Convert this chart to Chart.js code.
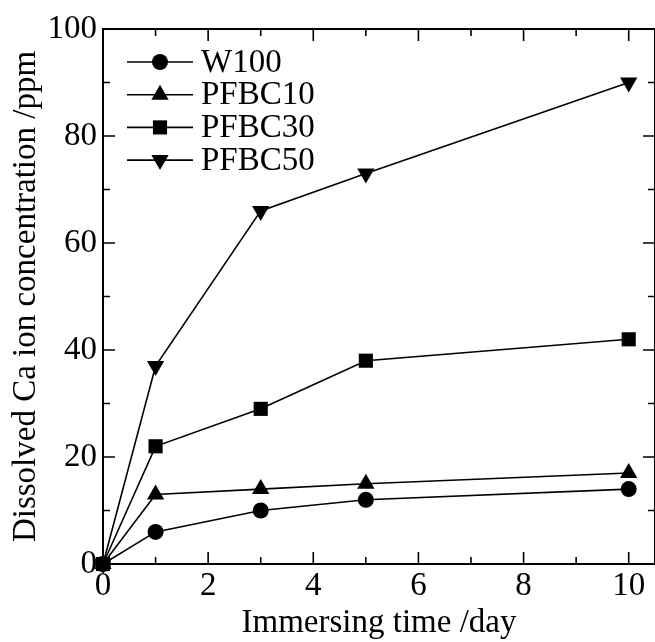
<!DOCTYPE html>
<html>
<head>
<meta charset="utf-8">
<script src="https://cdn.jsdelivr.net/npm/chart.js@4.4.1/dist/chart.umd.min.js"></script>
<style>
  html, body { margin: 0; padding: 0; background: #fff; overflow: hidden; }
  #wrap { width: 655px; height: 642px; overflow: hidden; }
</style>
</head>
<body>
<div id="wrap"><canvas id="chart" width="665" height="642"></canvas></div>
<script>
// immersing time (day)
const days = [0, 1, 3, 5, 10];
const seriesNames = ["W100", "PFBC10", "PFBC30", "PFBC50"];
const w100 = [0, 6, 10, 12, 14];
const pfbc10 = [0, 13, 14, 15, 17];
const pfbc30 = [0, 22, 29, 38, 42];
const pfbc50 = [0, 37, 66, 73, 90];
const xMajorTicks = [0, 2, 4, 6, 8, 10];
const xMinorTicks = [1, 3, 5, 7, 9];
const yMajorTicks = [0, 20, 40, 60, 80, 100];
const yMinorTicks = [10, 30, 50, 70, 90];

const FONT = "'Liberation Serif', 'Times New Roman', serif";

const markers = [
  {pointStyle: "circle", radius: 8, rotation: 0},
  {pointStyle: "triangle", radius: 10, rotation: 0},
  {pointStyle: "rect", radius: 10, rotation: 0},
  {pointStyle: "triangle", radius: 10, rotation: 180}
];

function toPoints(vals) {
  return days.map((d, i) => ({x: d, y: vals[i]}));
}

const allValues = [w100, pfbc10, pfbc30, pfbc50];
const datasets = allValues.map((vals, i) => ({
  label: seriesNames[i],
  data: toPoints(vals),
  showLine: true,
  borderColor: "#000",
  backgroundColor: "#000",
  borderWidth: 1.6,
  pointStyle: markers[i].pointStyle,
  pointRadius: markers[i].radius,
  pointRotation: markers[i].rotation,
  pointBorderWidth: 0,
  pointBackgroundColor: "#000",
  clip: false
}));

// frame, inward ticks on all sides, and the in-plot legend
const framePlugin = {
  id: "frame",
  afterDatasetsDraw(chart) {
    const ctx = chart.ctx;
    const a = chart.chartArea;
    const xs = chart.scales.x, ys = chart.scales.y;
    ctx.save();
    ctx.strokeStyle = "#000";
    ctx.lineWidth = 2;
    ctx.strokeRect(a.left, a.top, a.right - a.left, a.bottom - a.top);
    ctx.lineWidth = 1.6;
    ctx.beginPath();
    const tick = (vals, len) => {
      vals.forEach(v => {
        const px = xs.getPixelForValue(v);
        ctx.moveTo(px, a.bottom); ctx.lineTo(px, a.bottom - len);
        ctx.moveTo(px, a.top); ctx.lineTo(px, a.top + len);
      });
    };
    const tickY = (vals, len) => {
      vals.forEach(v => {
        const py = ys.getPixelForValue(v);
        ctx.moveTo(a.left, py); ctx.lineTo(a.left + len, py);
        ctx.moveTo(a.right, py); ctx.lineTo(a.right - len, py);
      });
    };
    tick(xMajorTicks, 12);
    tick(xMinorTicks, 7);
    tickY(yMajorTicks, 12);
    tickY(yMinorTicks, 7);
    ctx.stroke();

    // legend
    ctx.font = "33px " + FONT;
    ctx.textBaseline = "middle";
    ctx.textAlign = "left";
    ctx.fillStyle = "#000";
    chart.data.datasets.forEach((ds, i) => {
      const y = 62 + i * 32.7;
      ctx.beginPath();
      ctx.lineWidth = 1.6;
      ctx.moveTo(127, y); ctx.lineTo(193, y);
      ctx.stroke();
      Chart.helpers.drawPoint(ctx, {
        pointStyle: ds.pointStyle,
        radius: ds.pointRadius,
        rotation: ds.pointRotation,
        borderWidth: 0
      }, 160, y);
      ctx.fillText(ds.label, 201, y + 1);
    });
    ctx.restore();
  }
};

const ctx = document.getElementById("chart").getContext("2d");
new Chart(ctx, {
  type: "scatter",
  data: {datasets: datasets},
  options: {
    responsive: false,
    animation: false,
    layout: {padding: {top: 29, right: 6, left: 0, bottom: 0}},
    plugins: {legend: {display: false}, tooltip: {enabled: false}},
    scales: {
      x: {
        type: "linear",
        min: 0,
        max: 10.5,
        grid: {display: false, drawTicks: false},
        border: {display: false},
        ticks: {
          stepSize: 2,
          includeBounds: false,
          padding: 3,
          color: "#000",
          font: {family: FONT, size: 33},
          maxRotation: 0
        },
        title: {
          display: true,
          text: "Immersing time /day",
          color: "#000",
          font: {family: FONT, size: 33, lineHeight: 1},
          padding: {top: 0, bottom: 2}
        },
        afterFit(scale) {
          scale.height = 78;
          scale.paddingLeft = 0;
          scale.paddingRight = 0;
        }
      },
      y: {
        type: "linear",
        min: 0,
        max: 100,
        grid: {display: false, drawTicks: false},
        border: {display: false},
        ticks: {
          stepSize: 20,
          padding: 6,
          color: "#000",
          font: {family: FONT, size: 33}
        },
        title: {
          display: true,
          text: "Dissolved Ca ion concentration /ppm",
          color: "#000",
          font: {family: FONT, size: 33, lineHeight: 1},
          padding: {top: 10, bottom: 0}
        },
        afterFit(scale) { scale.width = 103; }
      }
    }
  },
  plugins: [framePlugin]
});
</script>
</body>
</html>
